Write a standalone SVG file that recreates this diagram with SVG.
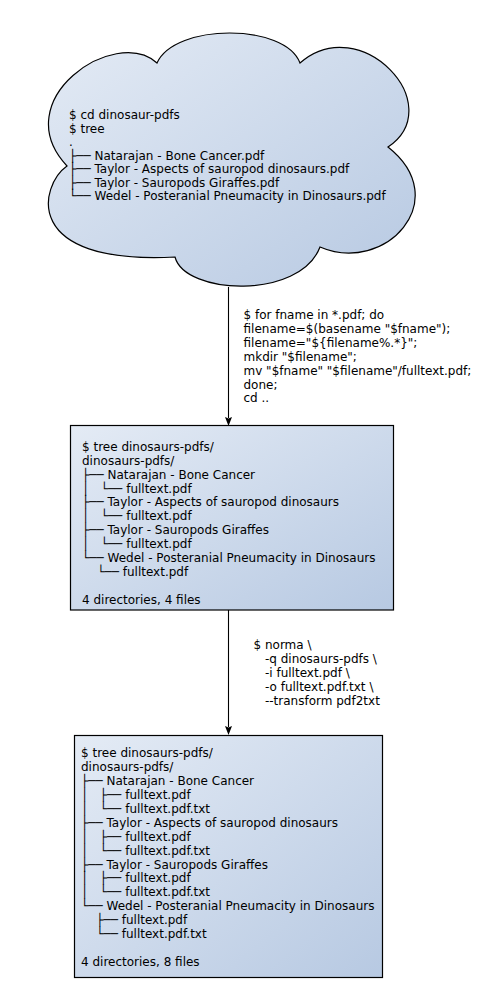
<svg xmlns="http://www.w3.org/2000/svg" width="489" height="993" viewBox="0 0 489 993">
<defs>
<linearGradient id="fill" x1="0" y1="0" x2="1" y2="1">
<stop offset="0" stop-color="#e4ebf5"/>
<stop offset="1" stop-color="#b7c9e2"/>
</linearGradient>
<style>
.shape{fill:url(#fill);stroke:#000;stroke-width:1.2}
.t{font-family:"DejaVu Sans","Liberation Sans",sans-serif;font-size:12px;fill:#000;white-space:pre}
.edge{stroke:#000;stroke-width:1.1;fill:none}
.head{fill:#000}
</style>
</defs>
<rect width="489" height="993" fill="#fff"/>
<g id="connectors">
<line class="edge" x1="228.5" y1="287" x2="228.5" y2="418"/>
<path class="head" d="M228.5,426 L225,417 L228.5,418.5 L232,417 Z"/>
<line class="edge" x1="228.5" y1="610" x2="228.5" y2="727"/>
<path class="head" d="M228.5,735 L225,726 L228.5,727.5 L232,726 Z"/>
</g>
<g id="label1">
<text class="t" xml:space="preserve"><tspan x="243.5" y="319">$ for fname in *.pdf; do</tspan><tspan x="243.5" y="332.9">filename=$(basename "$fname");</tspan><tspan x="243.5" y="346.8">filename="${filename%.*}";</tspan><tspan x="243.5" y="360.7">mkdir "$filename";</tspan><tspan x="243.5" y="374.6">mv "$fname" "$filename"/fulltext.pdf;</tspan><tspan x="243.5" y="388.5">done;</tspan><tspan x="243.5" y="402.4">cd ..</tspan></text>
</g>
<g id="label2">
<text class="t" xml:space="preserve"><tspan x="253.5" y="649.3">$ norma \</tspan><tspan x="253.5" y="663.2">   -q dinosaurs-pdfs \</tspan><tspan x="253.5" y="677.1">   -i fulltext.pdf \</tspan><tspan x="253.5" y="691">   -o fulltext.pdf.txt \</tspan><tspan x="253.5" y="704.9">   --transform pdf2txt</tspan></text>
</g>
<g id="cloud">
<path class="shape" d="M157,63 C115,25 5,100 67,166 C40,185 20,265 175,257 C185,295 300,300 320,247 C385,275 455,200 388,147 C450,105 360,10 300,63 C285,23 175,23 157,63 Z"/>
<text class="t" xml:space="preserve"><tspan x="69" y="119.3">$ cd dinosaur-pdfs</tspan><tspan x="69" y="132.8">$ tree</tspan><tspan x="69" y="146.3">.</tspan><tspan x="69" y="159.8">├── Natarajan - Bone Cancer.pdf</tspan><tspan x="69" y="173.3">├── Taylor - Aspects of sauropod dinosaurs.pdf</tspan><tspan x="69" y="186.8">├── Taylor - Sauropods Giraffes.pdf</tspan><tspan x="69" y="200.3">└── Wedel - Posteranial Pneumacity in Dinosaurs.pdf</tspan></text>
</g>
<g id="box2">
<rect class="shape" x="70.5" y="425.5" width="323" height="184.5"/>
<text class="t" xml:space="preserve"><tspan x="82" y="450.8">$ tree dinosaurs-pdfs/</tspan><tspan x="82" y="464.7">dinosaurs-pdfs/</tspan><tspan x="82" y="478.6">├── Natarajan - Bone Cancer</tspan><tspan x="82" y="492.5">│   └── fulltext.pdf</tspan><tspan x="82" y="506.4">├── Taylor - Aspects of sauropod dinosaurs</tspan><tspan x="82" y="520.3">│   └── fulltext.pdf</tspan><tspan x="82" y="534.2">├── Taylor - Sauropods Giraffes</tspan><tspan x="82" y="548.1">│   └── fulltext.pdf</tspan><tspan x="82" y="562">└── Wedel - Posteranial Pneumacity in Dinosaurs</tspan><tspan x="82" y="575.9">    └── fulltext.pdf</tspan><tspan x="82" y="603.7">4 directories, 4 files</tspan></text>
</g>
<g id="box3">
<rect class="shape" x="74.5" y="735.5" width="308" height="242"/>
<text class="t" xml:space="preserve"><tspan x="81" y="757.3">$ tree dinosaurs-pdfs/</tspan><tspan x="81" y="771.2">dinosaurs-pdfs/</tspan><tspan x="81" y="785.1">├── Natarajan - Bone Cancer</tspan><tspan x="81" y="799">│   ├── fulltext.pdf</tspan><tspan x="81" y="812.9">│   └── fulltext.pdf.txt</tspan><tspan x="81" y="826.8">├── Taylor - Aspects of sauropod dinosaurs</tspan><tspan x="81" y="840.7">│   ├── fulltext.pdf</tspan><tspan x="81" y="854.6">│   └── fulltext.pdf.txt</tspan><tspan x="81" y="868.5">├── Taylor - Sauropods Giraffes</tspan><tspan x="81" y="882.4">│   ├── fulltext.pdf</tspan><tspan x="81" y="896.3">│   └── fulltext.pdf.txt</tspan><tspan x="81" y="910.2">└── Wedel - Posteranial Pneumacity in Dinosaurs</tspan><tspan x="81" y="924.1">    ├── fulltext.pdf</tspan><tspan x="81" y="938">    └── fulltext.pdf.txt</tspan><tspan x="81" y="965.8">4 directories, 8 files</tspan></text>
</g>
</svg>
